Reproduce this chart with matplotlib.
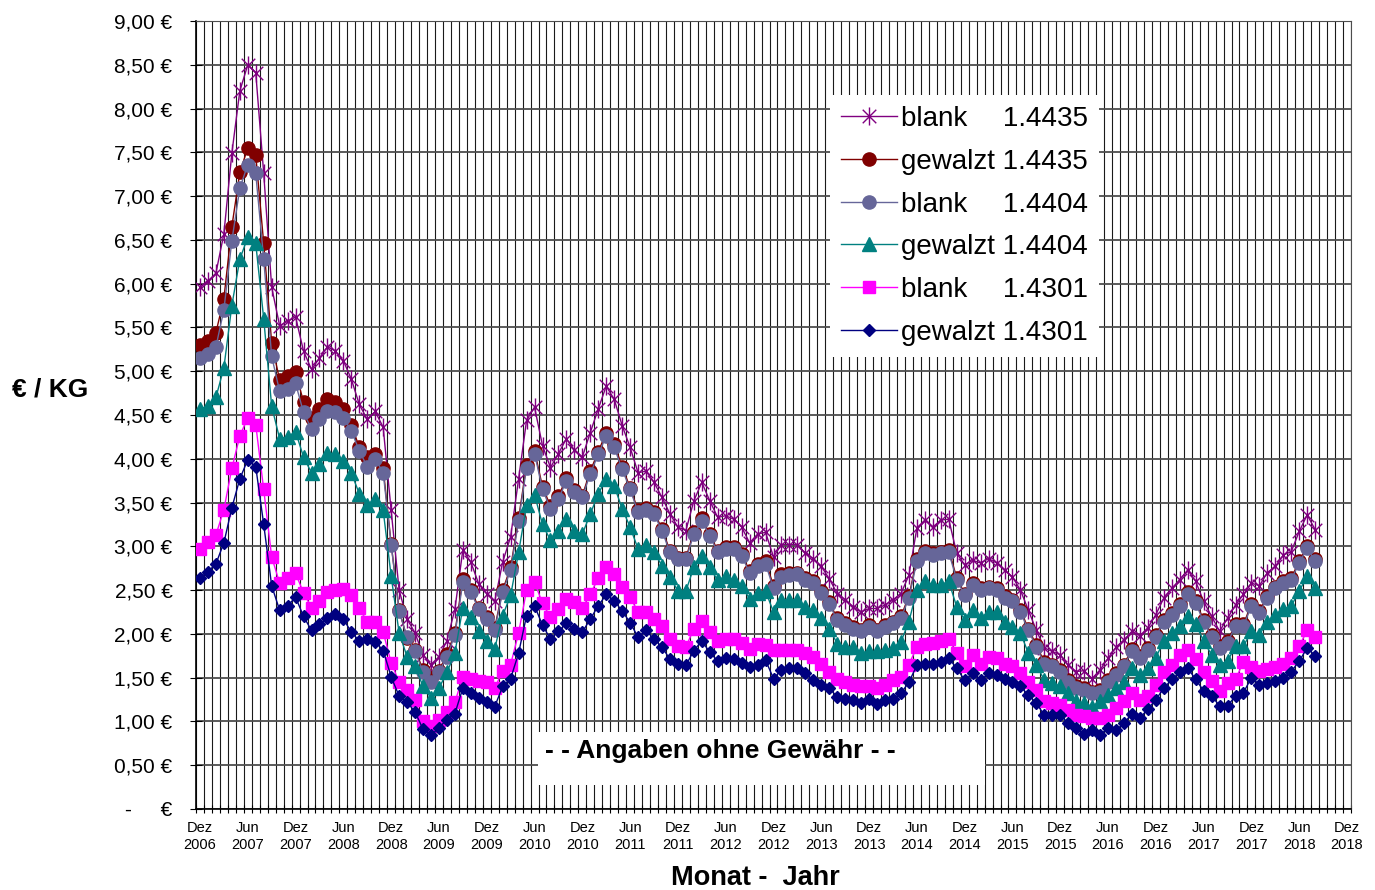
import numpy as np
import matplotlib
matplotlib.use('Agg')
import matplotlib.pyplot as plt
from matplotlib.path import Path
from matplotlib.patches import Rectangle
from matplotlib import font_manager

plt.rcParams['font.family'] = ['Liberation Sans', 'DejaVu Sans']

# x axis: one category per month, Dez 2006 .. Dez 2018
tick_labels = ['Dez\n2006', 'Jun\n2007', 'Dez\n2007', 'Jun\n2008', 'Dez\n2008',
               'Jun\n2009', 'Dez\n2009', 'Jun\n2010', 'Dez\n2010', 'Jun\n2011',
               'Dez\n2011', 'Jun\n2012', 'Dez\n2012', 'Jun\n2013', 'Dez\n2013',
               'Jun\n2014', 'Dez\n2014', 'Jun\n2015', 'Dez\n2015', 'Jun\n2016',
               'Dez\n2016', 'Jun\n2017', 'Dez\n2017', 'Jun\n2018', 'Dez\n2018']
n_months = 145

# price per kg in EUR, monthly from Dez 2006 to Aug 2018
blank_4435 = [5.96, 6.03, 6.12, 6.57, 7.49, 8.20, 8.50, 8.41, 7.26, 5.96,
              5.52, 5.57, 5.62, 5.23, 5.02, 5.15, 5.28, 5.23, 5.12, 4.91,
              4.62, 4.45, 4.54, 4.36, 3.41, 2.50, 2.17, 2.01, 1.76, 1.65,
              1.74, 1.92, 2.28, 2.96, 2.82, 2.57, 2.46, 2.37, 2.82, 3.11,
              3.77, 4.44, 4.59, 4.15, 3.90, 4.06, 4.23, 4.10, 4.02, 4.30,
              4.57, 4.83, 4.68, 4.38, 4.13, 3.84, 3.86, 3.73, 3.56, 3.37,
              3.22, 3.18, 3.52, 3.73, 3.52, 3.33, 3.35, 3.31, 3.22, 3.04,
              3.14, 3.16, 2.88, 3.02, 3.02, 3.02, 2.92, 2.86, 2.77, 2.63,
              2.46, 2.39, 2.31, 2.25, 2.29, 2.29, 2.33, 2.39, 2.46, 2.67,
              3.21, 3.30, 3.22, 3.30, 3.31, 2.92, 2.79, 2.84, 2.81, 2.86,
              2.81, 2.73, 2.65, 2.50, 2.27, 2.04, 1.84, 1.80, 1.76, 1.64,
              1.57, 1.58, 1.49, 1.59, 1.72, 1.85, 1.93, 2.03, 1.98, 2.07,
              2.22, 2.41, 2.52, 2.62, 2.73, 2.60, 2.37, 2.20, 2.03, 2.18,
              2.33, 2.45, 2.58, 2.55, 2.70, 2.77, 2.90, 2.94, 3.17, 3.36,
              3.19]
gewalzt_4435 = [5.30, 5.35, 5.44, 5.83, 6.65, 7.27, 7.55, 7.47, 6.46, 5.32,
                4.90, 4.94, 4.99, 4.65, 4.47, 4.57, 4.68, 4.65, 4.57, 4.39,
                4.13, 4.02, 4.05, 3.89, 3.03, 2.27, 1.95, 1.82, 1.59, 1.50,
                1.58, 1.77, 2.01, 2.63, 2.50, 2.30, 2.19, 2.07, 2.50, 2.76,
                3.32, 3.93, 4.09, 3.68, 3.46, 3.57, 3.78, 3.64, 3.58, 3.86,
                4.08, 4.30, 4.17, 3.91, 3.67, 3.41, 3.44, 3.39, 3.20, 2.95,
                2.87, 2.87, 3.16, 3.32, 3.14, 2.95, 2.99, 2.99, 2.91, 2.72,
                2.80, 2.83, 2.55, 2.68, 2.70, 2.70, 2.64, 2.60, 2.49, 2.36,
                2.18, 2.12, 2.08, 2.05, 2.10, 2.05, 2.10, 2.14, 2.20, 2.43,
                2.86, 2.95, 2.92, 2.94, 2.96, 2.64, 2.46, 2.58, 2.52, 2.54,
                2.52, 2.43, 2.39, 2.27, 2.06, 1.87, 1.68, 1.65, 1.59, 1.47,
                1.40, 1.38, 1.34, 1.36, 1.47, 1.55, 1.65, 1.83, 1.75, 1.84,
                1.99, 2.16, 2.24, 2.34, 2.48, 2.37, 2.16, 1.99, 1.86, 1.92,
                2.11, 2.11, 2.34, 2.26, 2.43, 2.54, 2.60, 2.64, 2.83, 3.00,
                2.85]
blank_4404 = [5.15, 5.20, 5.28, 5.70, 6.49, 7.09, 7.36, 7.26, 6.28, 5.17,
              4.77, 4.80, 4.86, 4.53, 4.34, 4.46, 4.55, 4.53, 4.47, 4.32,
              4.09, 3.91, 4.00, 3.84, 3.02, 2.26, 1.96, 1.81, 1.56, 1.45,
              1.56, 1.74, 1.99, 2.59, 2.48, 2.28, 2.17, 2.05, 2.48, 2.73,
              3.29, 3.90, 4.06, 3.65, 3.43, 3.54, 3.75, 3.62, 3.56, 3.83,
              4.05, 4.26, 4.13, 3.88, 3.65, 3.39, 3.41, 3.37, 3.18, 2.93,
              2.85, 2.85, 3.14, 3.29, 3.12, 2.93, 2.97, 2.97, 2.89, 2.70,
              2.78, 2.80, 2.52, 2.65, 2.67, 2.68, 2.62, 2.58, 2.47, 2.34,
              2.16, 2.10, 2.06, 2.03, 2.08, 2.03, 2.08, 2.12, 2.18, 2.41,
              2.83, 2.92, 2.90, 2.92, 2.93, 2.62, 2.44, 2.56, 2.50, 2.52,
              2.50, 2.41, 2.37, 2.25, 2.04, 1.85, 1.66, 1.63, 1.57, 1.45,
              1.38, 1.36, 1.32, 1.34, 1.45, 1.53, 1.63, 1.81, 1.73, 1.82,
              1.97, 2.14, 2.22, 2.32, 2.45, 2.35, 2.14, 1.97, 1.84, 1.90,
              2.09, 2.09, 2.32, 2.24, 2.41, 2.52, 2.58, 2.62, 2.81, 2.98,
              2.83]
gewalzt_4404 = [4.57, 4.60, 4.70, 5.04, 5.75, 6.28, 6.53, 6.46, 5.60, 4.60,
                4.23, 4.25, 4.31, 4.02, 3.84, 3.94, 4.07, 4.05, 3.97, 3.84,
                3.60, 3.47, 3.54, 3.41, 2.66, 2.01, 1.74, 1.63, 1.40, 1.27,
                1.38, 1.56, 1.78, 2.30, 2.19, 2.03, 1.92, 1.83, 2.21, 2.44,
                2.93, 3.47, 3.59, 3.25, 3.07, 3.18, 3.31, 3.18, 3.14, 3.37,
                3.60, 3.77, 3.69, 3.43, 3.22, 2.97, 3.01, 2.93, 2.78, 2.65,
                2.49, 2.49, 2.76, 2.89, 2.76, 2.61, 2.66, 2.61, 2.55, 2.40,
                2.47, 2.49, 2.25, 2.39, 2.39, 2.39, 2.31, 2.27, 2.18, 2.06,
                1.89, 1.85, 1.85, 1.78, 1.80, 1.80, 1.82, 1.84, 1.91, 2.14,
                2.50, 2.60, 2.56, 2.56, 2.60, 2.31, 2.16, 2.27, 2.18, 2.25,
                2.25, 2.14, 2.08, 2.01, 1.78, 1.65, 1.47, 1.44, 1.40, 1.32,
                1.23, 1.21, 1.17, 1.23, 1.30, 1.38, 1.45, 1.61, 1.53, 1.61,
                1.73, 1.92, 2.01, 2.09, 2.20, 2.11, 1.92, 1.76, 1.65, 1.69,
                1.86, 1.86, 2.03, 1.99, 2.14, 2.22, 2.28, 2.32, 2.49, 2.66,
                2.52]
blank_4301 = [2.97, 3.05, 3.13, 3.42, 3.89, 4.26, 4.47, 4.39, 3.65, 2.88,
              2.58, 2.64, 2.69, 2.47, 2.30, 2.38, 2.48, 2.50, 2.51, 2.44,
              2.29, 2.14, 2.14, 2.02, 1.67, 1.45, 1.36, 1.24, 1.00, 0.95,
              1.02, 1.11, 1.22, 1.51, 1.49, 1.46, 1.45, 1.38, 1.58, 1.65,
              2.01, 2.50, 2.59, 2.35, 2.19, 2.28, 2.40, 2.36, 2.30, 2.45,
              2.64, 2.76, 2.68, 2.53, 2.42, 2.25, 2.25, 2.17, 2.09, 1.94,
              1.86, 1.85, 2.06, 2.15, 2.02, 1.92, 1.94, 1.94, 1.90, 1.83,
              1.88, 1.87, 1.82, 1.82, 1.82, 1.82, 1.78, 1.74, 1.66, 1.57,
              1.49, 1.45, 1.42, 1.41, 1.41, 1.38, 1.42, 1.47, 1.51, 1.65,
              1.85, 1.89, 1.90, 1.92, 1.94, 1.78, 1.63, 1.76, 1.66, 1.74,
              1.72, 1.66, 1.63, 1.55, 1.45, 1.36, 1.23, 1.21, 1.19, 1.13,
              1.07, 1.06, 1.04, 1.04, 1.07, 1.15, 1.23, 1.32, 1.25, 1.29,
              1.42, 1.57, 1.65, 1.76, 1.82, 1.71, 1.57, 1.46, 1.35, 1.44,
              1.48, 1.68, 1.62, 1.58, 1.60, 1.62, 1.66, 1.72, 1.86, 2.04,
              1.96]
gewalzt_4301 = [2.64, 2.71, 2.80, 3.04, 3.44, 3.77, 3.99, 3.91, 3.25, 2.55,
                2.27, 2.32, 2.42, 2.20, 2.04, 2.11, 2.18, 2.23, 2.17, 2.02,
                1.92, 1.94, 1.91, 1.81, 1.51, 1.29, 1.22, 1.11, 0.91, 0.84,
                0.93, 1.02, 1.09, 1.38, 1.33, 1.27, 1.22, 1.17, 1.40, 1.49,
                1.78, 2.21, 2.32, 2.10, 1.94, 2.03, 2.12, 2.06, 2.02, 2.17,
                2.32, 2.45, 2.38, 2.26, 2.13, 1.96, 2.04, 1.94, 1.85, 1.71,
                1.66, 1.64, 1.81, 1.92, 1.79, 1.69, 1.73, 1.71, 1.67, 1.62,
                1.64, 1.70, 1.49, 1.59, 1.61, 1.61, 1.55, 1.47, 1.42, 1.38,
                1.28, 1.26, 1.25, 1.21, 1.26, 1.20, 1.25, 1.26, 1.32, 1.45,
                1.64, 1.66, 1.66, 1.68, 1.72, 1.61, 1.47, 1.55, 1.47, 1.55,
                1.53, 1.49, 1.45, 1.40, 1.30, 1.21, 1.07, 1.07, 1.07, 0.98,
                0.92, 0.86, 0.90, 0.85, 0.92, 0.90, 0.98, 1.09, 1.04, 1.14,
                1.25, 1.38, 1.48, 1.56, 1.61, 1.48, 1.35, 1.29, 1.18, 1.18,
                1.29, 1.33, 1.50, 1.42, 1.44, 1.46, 1.50, 1.57, 1.69, 1.84,
                1.75]

# Excel-like star marker: an X plus a vertical bar
star = Path([(0, -1), (0, 1), (-0.75, -0.75), (0.75, 0.75), (-0.75, 0.75), (0.75, -0.75)],
            [Path.MOVETO, Path.LINETO, Path.MOVETO, Path.LINETO, Path.MOVETO, Path.LINETO])

sp = '\u2002\u2002 '
series = [
    (blank_4435, 'blank' + sp + '1.4435', '#800080', star, 13),
    (gewalzt_4435, 'gewalzt 1.4435', '#800000', 'o', 9.5),
    (blank_4404, 'blank' + sp + '1.4404', '#666699', 'o', 9.5),
    (gewalzt_4404, 'gewalzt 1.4404', '#008080', '^', 10),
    (blank_4301, 'blank' + sp + '1.4301', '#FF00FF', 's', 8.5),
    (gewalzt_4301, 'gewalzt 1.4301', '#000080', 'D', 6.5),
]

fig = plt.figure(figsize=(13.75, 8.9), dpi=100)
ax = fig.add_axes([196 / 1375, 1 - 809 / 890, 1155 / 1375, 788 / 890])

for values, label, color, marker, size in series:
    x = np.arange(len(values))
    ax.plot(x, values, color=color, lw=1.0, marker=marker, ms=size,
            mec=color, mfc=color, mew=1.0, label=label, zorder=3)

ax.set_xlim(-0.5, n_months - 0.5)
ax.set_ylim(0, 9)

# month grid
ax.set_xticks(np.arange(-0.5, n_months, 1), minor=True)
ax.set_xticks(np.arange(0, n_months, 6))
names = {f.name for f in font_manager.fontManager.ttflist}
narrow = 'Liberation Sans Narrow' if 'Liberation Sans Narrow' in names else 'Liberation Sans'
ax.set_xticklabels(tick_labels, fontsize=10.5, family=narrow)
ax.xaxis.grid(True, which='minor', color='#1a1a1a', lw=0.8)
ax.tick_params(axis='x', which='major', length=0, pad=9)
ax.tick_params(axis='x', which='minor', direction='inout', length=6, width=0.8)

yticks = np.arange(0, 9.01, 0.5)
ax.set_yticks(yticks)
ylabels = [f'{v:.2f} €'.replace('.', ',') if v > 0 else '-     €' for v in yticks]
ax.set_yticklabels(ylabels, fontsize=15)
ax.yaxis.grid(True, color='#4d4d4d', lw=1.3)
ax.tick_params(axis='y', direction='inout', length=8, width=0.8, pad=13)
ax.set_axisbelow(True)

for s in ['top', 'right']:
    ax.spines[s].set_color('#4d4d4d')
for s in ['left', 'bottom']:
    ax.spines[s].set_color('black')
    ax.spines[s].set_linewidth(1.2)

# disclaimer box
ax.add_patch(Rectangle((42.4, 0.274), 56.2, 0.605, facecolor='white',
                       edgecolor='none', zorder=2.5))
ax.text(43.3, 0.66, '- - Angaben ohne Gewähr - -', fontsize=19, fontweight='bold',
        ha='left', va='center', zorder=4)

leg = ax.legend(loc='upper left', bbox_to_anchor=(0.549, 0.906), fontsize=20,
                frameon=True, fancybox=False, framealpha=1, facecolor='white',
                edgecolor='none', borderaxespad=0, borderpad=0.4,
                labelspacing=0.6, handlelength=2.0, handletextpad=0.15,
                numpoints=1)
leg.set_zorder(5)

fig.text(50 / 1375, 1 - 390 / 890, '€ / KG', fontsize=19, fontweight='bold',
         ha='center', va='center')
fig.text(755 / 1375, 1 - 878 / 890, 'Monat -  Jahr', fontsize=19.5, fontweight='bold',
         ha='center', va='center')

fig.savefig('out.png', dpi=100)
